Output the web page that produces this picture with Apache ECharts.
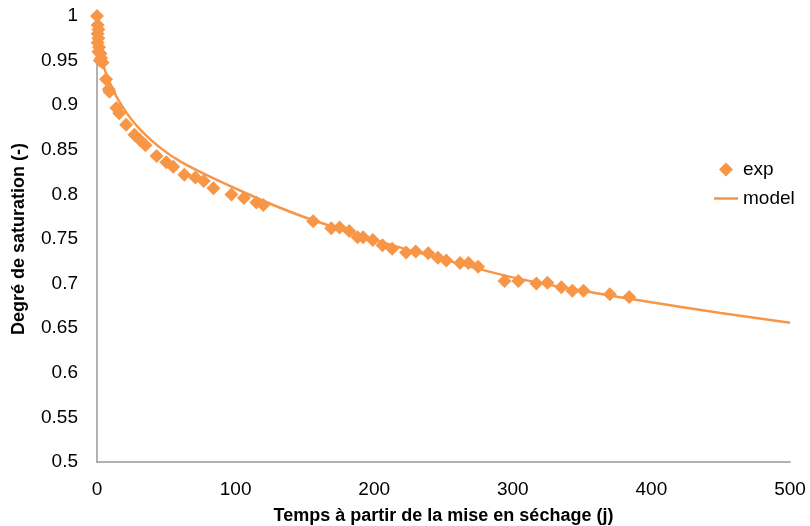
<!DOCTYPE html>
<html>
<head>
<meta charset="utf-8">
<script src="https://cdn.jsdelivr.net/npm/echarts@6/dist/echarts.min.js"></script>
<style>
  html, body { margin: 0; padding: 0; background: #fff; }
  #chart { width: 810px; height: 526px; }
</style>
</head>
<body>
<div id="chart"></div>
<script>
// measured points (temps en jours, degré de saturation)
const expX = [0, 0.5, 1, 0.5, 1, 0.5, 1.5, 1, 2.5, 3, 2, 4,
  6.5, 8.5, 9, 14, 16, 21, 27, 31, 35, 43, 50, 55, 63, 71, 77, 84,
  97, 106, 115, 120, 156, 169, 175, 182, 188, 192, 199, 206, 213,
  223, 230, 239, 246, 252, 262, 268, 275, 294, 304, 317, 325, 335,
  343, 351, 370, 384];
const expY = [1.0, 0.99, 0.985, 0.98, 0.975, 0.97, 0.965, 0.96, 0.958, 0.953, 0.95, 0.948,
  0.929, 0.918, 0.915, 0.897, 0.891, 0.878, 0.867, 0.861, 0.855, 0.843, 0.836, 0.831, 0.822, 0.819, 0.815, 0.807,
  0.800, 0.796, 0.791, 0.788, 0.770, 0.762, 0.763, 0.759, 0.752, 0.752, 0.749, 0.743, 0.739,
  0.735, 0.736, 0.734, 0.729, 0.726, 0.723, 0.723, 0.719, 0.703, 0.703, 0.700, 0.701, 0.696,
  0.692, 0.692, 0.688, 0.685];

// model curve
const modelX = [3.5, 6, 10, 15, 22, 31, 45, 60, 80, 108, 132, 156, 200, 250, 300, 350, 400, 450, 500];
const modelY = [0.951, 0.938, 0.923, 0.907, 0.890, 0.873, 0.853, 0.837, 0.821, 0.801, 0.785, 0.771, 0.749, 0.727, 0.707, 0.692, 0.679, 0.667, 0.656];

const orange = '#F79646';
const font = 'Liberation Sans';

let chart = echarts.init(document.getElementById('chart'));
chart.setOption({
  animation: false,
  backgroundColor: '#fff',
  textStyle: { fontFamily: font },
  grid: { left: 97, right: 20, top: 16, bottom: 64, outerBoundsMode: 'none' },
  legend: {
    orient: 'vertical',
    left: 709,
    top: 155,
    itemWidth: 24,
    itemHeight: 14,
    itemGap: 10,
    symbolKeepAspect: true,
    textStyle: { fontSize: 19, color: '#000', fontFamily: font },
    data: [
      { name: 'exp', icon: 'path://M5,0 L10,5 L5,10 L0,5 Z' },
      { name: 'model', icon: 'path://M0,0 L24,0 L24,2.5 L0,2.5 Z' }
    ]
  },
  xAxis: {
    type: 'value',
    min: 0, max: 500, interval: 100,
    name: 'Temps à partir de la mise en séchage (j)',
    nameLocation: 'middle',
    nameGap: 45,
    nameTextStyle: { fontSize: 18, fontWeight: 'bold', color: '#000' },
    axisLine: { show: true, lineStyle: { color: '#999', width: 1.5 } },
    axisTick: { show: false },
    splitLine: { show: false },
    axisLabel: { fontSize: 19, color: '#000', margin: 18 }
  },
  yAxis: {
    type: 'value',
    min: 0.5, max: 1, interval: 0.05,
    name: 'Degré de saturation (-)',
    nameLocation: 'middle',
    nameGap: 69,
    nameTextStyle: { fontSize: 18, fontWeight: 'bold', color: '#000' },
    axisLine: { show: true, lineStyle: { color: '#999', width: 1.5 } },
    axisTick: { show: false },
    splitLine: { show: false },
    axisLabel: { fontSize: 19, color: '#000', margin: 19 }
  },
  series: [{
    name: 'exp',
    type: 'scatter',
    symbol: 'diamond',
    symbolSize: 14,
    itemStyle: { color: orange, opacity: 1 },
    z: 3,
    data: expX.map((x, i) => [x, expY[i]])
  }, {
    name: 'model',
    type: 'line',
    smooth: 0.3,
    symbol: 'none',
    lineStyle: { color: orange, width: 2.5 },
    itemStyle: { color: orange },
    z: 2,
    data: modelX.map((x, i) => [x, modelY[i]])
  }]
});
</script>
</body>
</html>
